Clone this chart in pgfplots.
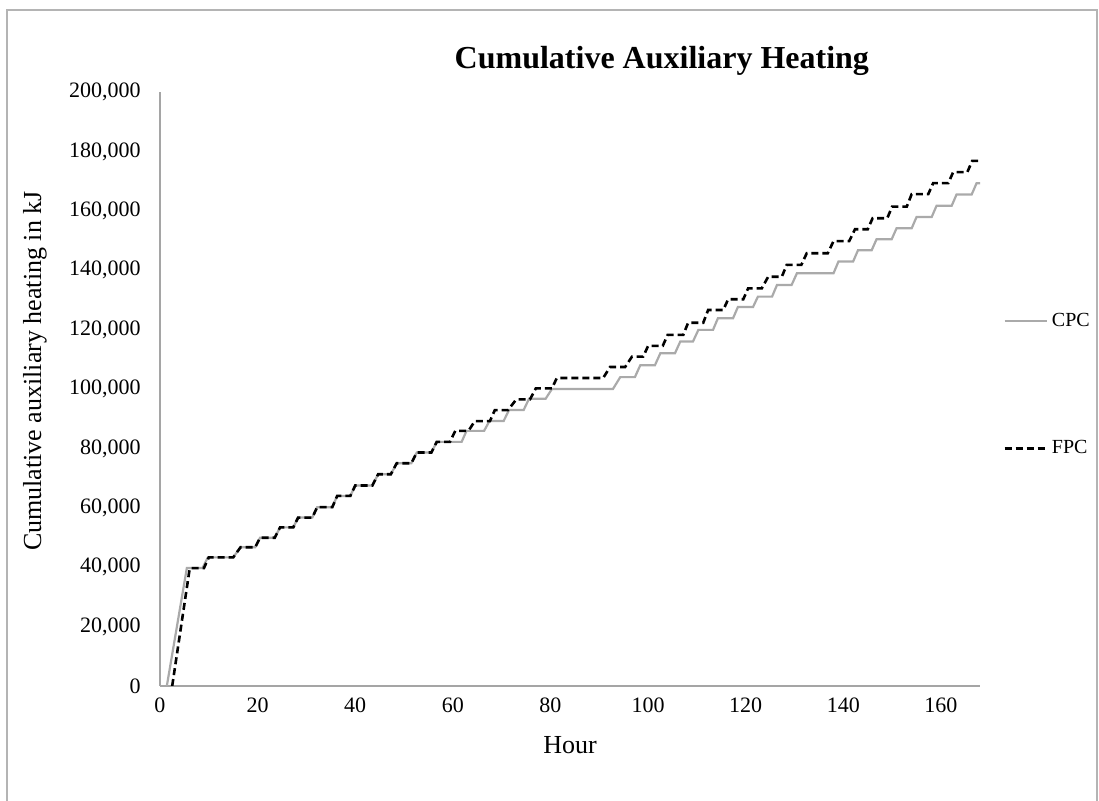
\documentclass[border=0pt]{standalone}
\usepackage{fontspec}
\setmainfont{Liberation Serif}
\usepackage{pgfplots}
\pgfplotsset{compat=1.18}
\definecolor{cpcgray}{RGB}{170,170,170}
\definecolor{axgray}{RGB}{165,165,165}
\definecolor{framegray}{RGB}{180,180,180}
\begin{document}
\begin{tikzpicture}
\useasboundingbox (-80pt,-57.5pt) rectangle (469.5pt,343pt);
\draw[framegray, line width=0.7pt] (-76.5pt,-57.5pt) -- (-76.5pt,338pt) -- (468.5pt,338pt) -- (468.5pt,-57.5pt);
\begin{axis}[
  at={(0pt,0pt)}, anchor=south west,
  scale only axis, width=410pt, height=297pt,
  xmin=0, xmax=168, ymin=0, ymax=200000,
  axis lines=left,
  axis line style={-, draw=axgray, line width=0.8pt},
  xtick={0,20,...,160},
  ytick={0,20000,40000,60000,80000,100000,120000,140000,160000,180000,200000},
  yticklabels={0,{20,000},{40,000},{60,000},{80,000},{100,000},{120,000},{140,000},{160,000},{180,000},{200,000}},
  scaled y ticks=false,
  major tick length=0pt,
  tick style={draw=none},
  /pgf/number format/assume math mode=true,
  ticklabel style={font=\fontsize{11}{13}\selectfont},
  xticklabel style={inner sep=0pt, anchor=north, yshift=-5.5pt},
  yticklabel style={inner sep=0pt, anchor=east, xshift=-9.5pt},
  every axis title shift=0pt,
  title={Cumulative Auxiliary Heating},
  title style={font=\bfseries\fontsize{16}{18}\selectfont, at={(0.612,1.052)}, anchor=center, yshift=0pt, inner sep=0pt},
  xlabel={Hour},
  xlabel style={font=\fontsize{13}{15}\selectfont, at={(axis description cs:0.5,-0.0993)}, anchor=center, inner sep=0pt},
  ylabel={Cumulative auxiliary heating in kJ},
  ylabel style={font=\fontsize{13}{15}\selectfont, at={(axis description cs:-0.1524,0.53)}, anchor=center, inner sep=0pt},
  legend style={draw=none, fill=none, at={(1.028,0.635)}, anchor=north west,
    font=\fontsize{10}{12}\selectfont, row sep=51.5pt, inner sep=0pt,
    cells={anchor=west}},
  legend image code/.code={\draw[#1] (0pt,0pt) -- (21pt,0pt);},
]
\addplot[cpcgray, line width=1.1pt] coordinates {
(1.4,0)(5.5,39700)(8.7,39700)(9.8,43300)(15.0,43300)(16.5,46700)(19.5,46700)(20.5,49900)
(23.5,49900)(24.6,53400)(27.3,53400)(28.3,56700)(31.2,56700)(32.2,60200)(35.3,60200)
(36.3,64000)(39,64000)(40,67500)(43.5,67500)(44.7,71300)(47.3,71300)(48.5,75000)
(51.5,75000)(52.6,78600)(55.6,78600)(56.7,82200)(61.8,82200)(62.8,85900)(66.4,85900)
(67.5,89200)(70.4,89200)(71.5,92900)(74.5,92900)(75.6,96700)(79,96700)(80.3,100000)
(92.8,100000)(94.3,104000)(97.3,104000)(98.4,108000)(101.4,108000)(102.5,112000)
(105.5,112000)(106.6,116000)(109.2,116000)(110.3,119900)(113.3,119900)(114.3,123800)
(117.4,123800)(118.4,127600)(121.5,127600)(122.5,131100)(125.4,131100)(126.4,135000)
(129.4,135000)(130.5,139000)(138,139000)(139,142900)(142,142900)(143,146700)
(145.8,146700)(146.8,150400)(149.9,150400)(150.9,154100)(154,154100)(155,157900)
(158.1,157900)(159.1,161700)(162.2,161700)(163.2,165500)(166.3,165500)(167.3,169300)
(168,169300)
};
\addlegendentry{CPC}
\addplot[black, line width=1.3pt, dash pattern=on 3.5pt off 2pt] coordinates {
(2.5,0)(6.1,39700)(9.0,39700)(10.0,43300)(15.0,43300)(16.5,46700)(19.5,46700)(20.5,49900)
(23.5,49900)(24.6,53400)(27.3,53400)(28.3,56700)(31.2,56700)(32.2,60200)(35.3,60200)
(36.3,64000)(39,64000)(40,67500)(43.5,67500)(44.7,71300)(47.3,71300)(48.5,75000)
(51.5,75000)(52.6,78600)(55.6,78600)(56.7,82200)(59.4,82200)(60.5,85900)(63.2,85900)
(64.5,89200)(67.6,89200)(68.6,92900)(71.3,92900)(73,96500)(75.8,96500)(77,100200)
(80.3,100200)(81.3,103700)(90.8,103700)(92.2,107400)(95.3,107400)(96.7,110900)
(99,110900)(100,114500)(103,114500)(104,118200)(107.2,118200)(108.2,122300)
(111.3,122300)(112.3,126600)(115.4,126600)(116.4,130200)(119.5,130200)(120.5,133900)
(123.3,133900)(124.6,137800)(127.4,137800)(128.4,141800)(131.4,141800)(132.5,145700)
(136.8,145700)(138,149800)(141.2,149800)(142.4,153800)(145,153800)(146,157500)
(149,157500)(150,161400)(153,161400)(154,165600)(157.4,165600)(158.4,169300)
(161.5,169300)(162.5,173000)(165.4,173000)(166.4,176800)(168,176800)
};
\addlegendentry{FPC}
\end{axis}
\end{tikzpicture}
\end{document}
